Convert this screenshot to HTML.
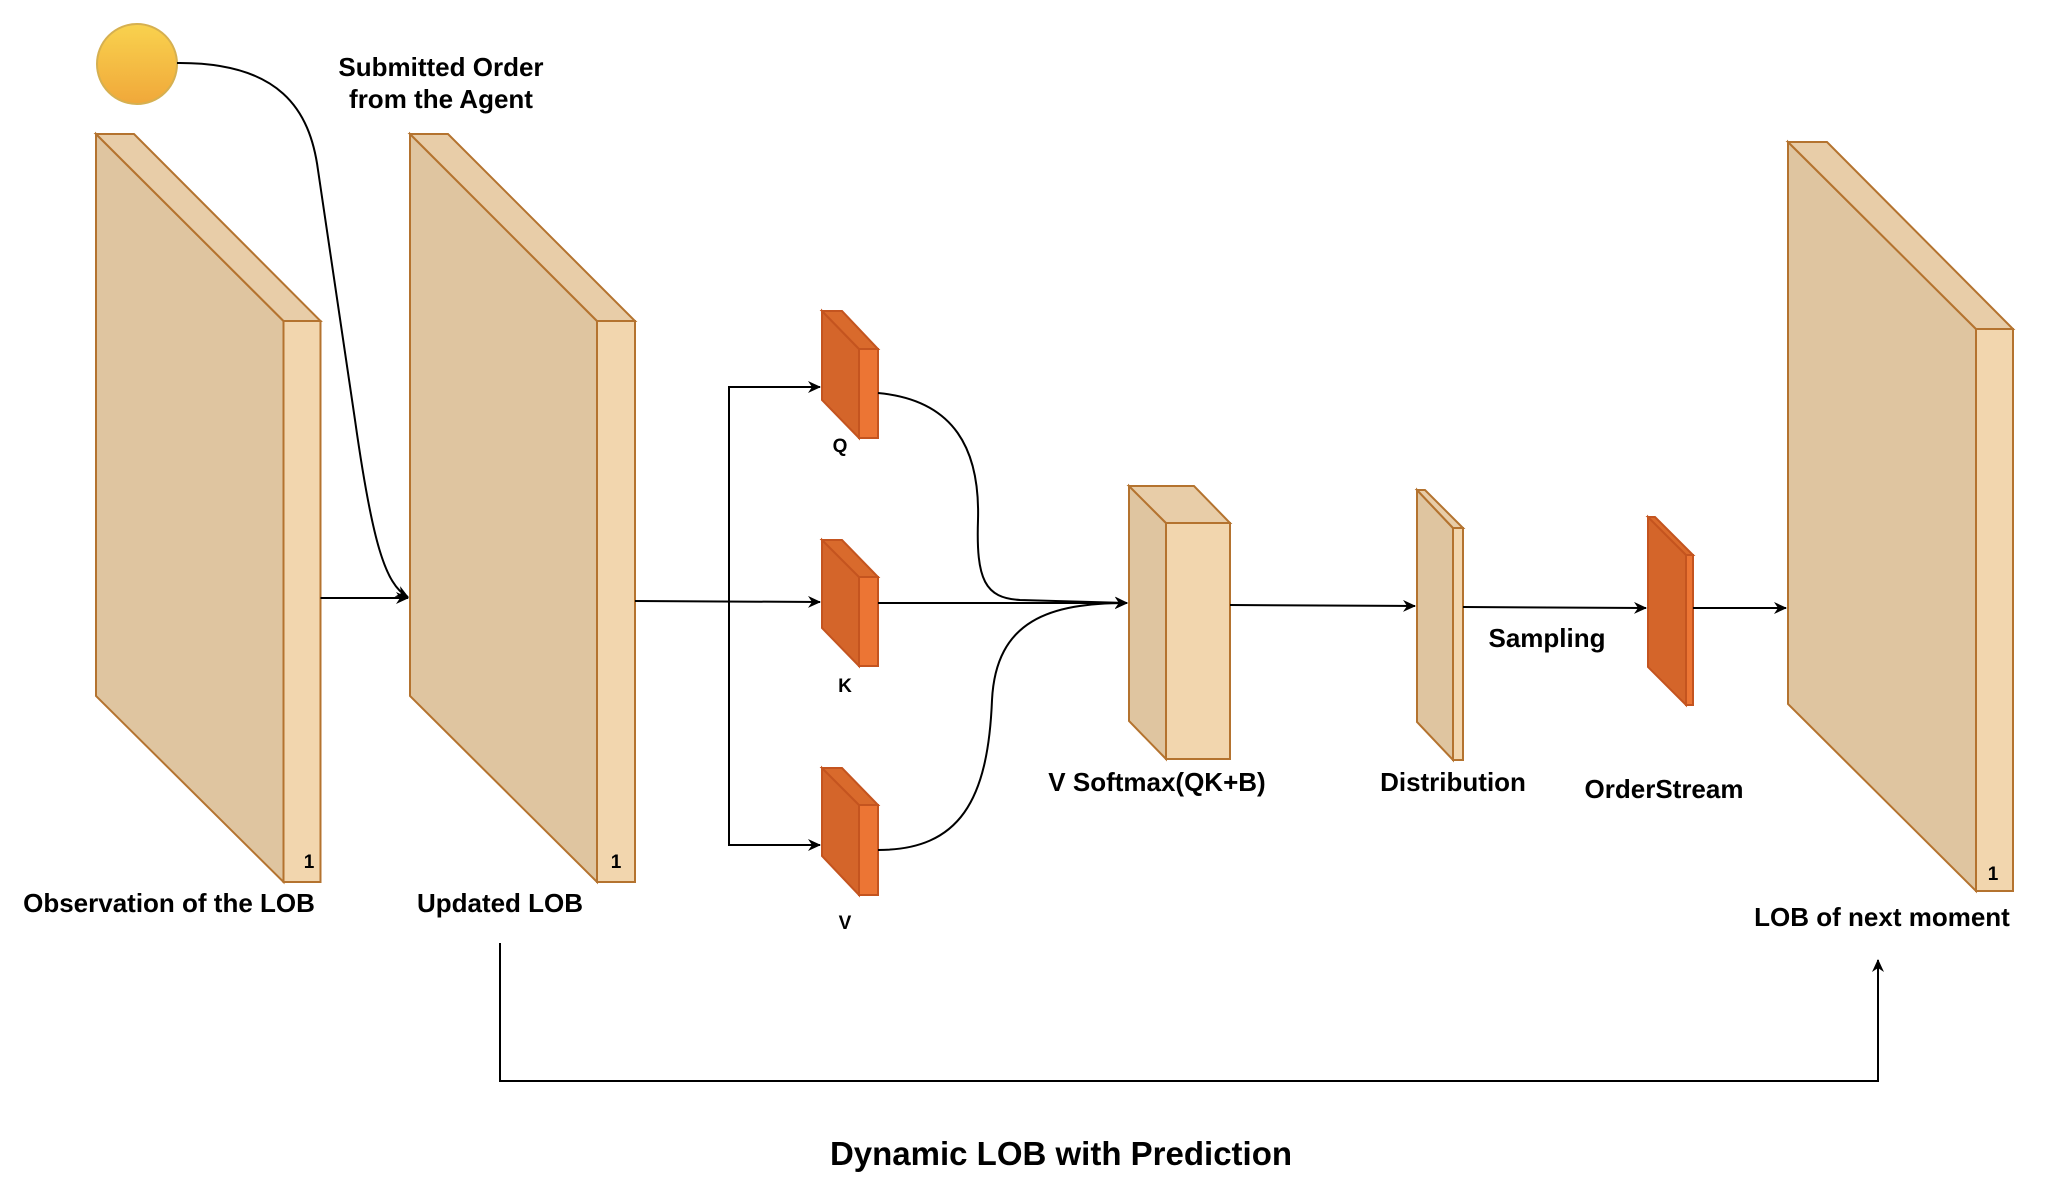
<!DOCTYPE html>
<html><head><meta charset="utf-8"><style>
html,body{margin:0;padding:0;background:#fff;width:2066px;height:1200px;overflow:hidden}
text{font-family:"Liberation Sans",Arial,sans-serif;font-weight:bold;fill:#000}
</style></head><body>
<svg width="2066" height="1200" viewBox="0 0 2066 1200" xmlns="http://www.w3.org/2000/svg">
<defs>
<linearGradient id="g" x1="0" y1="0" x2="0" y2="1"><stop offset="0" stop-color="#f9d24e"/><stop offset="1" stop-color="#f0a83a"/></linearGradient>
<marker id="a" markerWidth="14" markerHeight="12" refX="12" refY="6" orient="auto" markerUnits="userSpaceOnUse"><path d="M0,0 L13,6 L0,12 L4,6 Z" fill="#000"/></marker>
</defs>
<g stroke="#b4732f" stroke-width="2" stroke-linejoin="miter">
<polygon points="96,134 283.5,321 283.5,882 96,696" fill="#dfc5a0"/>
<polygon points="96,134 134,134 320.5,321 283.5,321" fill="#e8cda8"/>
<polygon points="283.5,321 320.5,321 320.5,882 283.5,882" fill="#f2d6ae"/>
<polygon points="410,134 597,321 597,882 410,696" fill="#dfc5a0"/>
<polygon points="410,134 448,134 635,321 597,321" fill="#e8cda8"/>
<polygon points="597,321 635,321 635,882 597,882" fill="#f2d6ae"/>
<polygon points="1129,486 1166,523 1166,759 1129,721" fill="#dfc5a0"/>
<polygon points="1129,486 1194,486 1230,523 1166,523" fill="#e8cda8"/>
<polygon points="1166,523 1230,523 1230,759 1166,759" fill="#f2d6ae"/>
<polygon points="1417,490 1453,528 1453,760 1417,722" fill="#dfc5a0"/>
<polygon points="1417,490 1425,490 1463,528 1453,528" fill="#e8cda8"/>
<polygon points="1453,528 1463,528 1463,760 1453,760" fill="#f2d6ae"/>
<polygon points="1788,142 1976,329 1976,891 1788,704" fill="#dfc5a0"/>
<polygon points="1788,142 1827,142 2013,329 1976,329" fill="#e8cda8"/>
<polygon points="1976,329 2013,329 2013,891 1976,891" fill="#f2d6ae"/>
</g>
<g stroke="#c4541f" stroke-width="2">
<polygon points="822,311 859,349 859,438 822,400" fill="#d4652a"/>
<polygon points="822,311 842,311 878,349 859,349" fill="#d96a2c"/>
<polygon points="859,349 878,349 878,438 859,438" fill="#ec7534"/>
<polygon points="822,540 859,577 859,666 822,628" fill="#d4652a"/>
<polygon points="822,540 842,540 878,577 859,577" fill="#d96a2c"/>
<polygon points="859,577 878,577 878,666 859,666" fill="#ec7534"/>
<polygon points="822,768 859,805 859,895 822,856" fill="#d4652a"/>
<polygon points="822,768 842,768 878,805 859,805" fill="#d96a2c"/>
<polygon points="859,805 878,805 878,895 859,895" fill="#ec7534"/>
<polygon points="1648,517 1686,555 1686,705 1648,667" fill="#d4652a"/>
<polygon points="1648,517 1655,517 1693,555 1686,555" fill="#d96a2c"/>
<polygon points="1686,555 1693,555 1693,705 1686,705" fill="#ec7534"/>
</g>
<ellipse cx="137" cy="64" rx="40" ry="40" fill="url(#g)" stroke="#d6b050" stroke-width="2"/>
<g fill="none" stroke="#000" stroke-width="2">
<path d="M177,63 C280,62 310,110 318,170 L355,420 C372,540 385,585 408,597" marker-end="url(#a)"/>
<path d="M320.5,598 L408,598" marker-end="url(#a)"/>
<path d="M635,601 L820,602" marker-end="url(#a)"/>
<path d="M729,601 L729,387 L820,387" marker-end="url(#a)"/>
<path d="M729,601 L729,845 L820,845" marker-end="url(#a)"/>
<path d="M878,393 C955,400 980,450 978,520 C976,580 985,598 1020,600 L1127,603" marker-end="url(#a)"/>
<path d="M878,603 L1127,603" marker-end="url(#a)"/>
<path d="M878,850 C960,850 988,800 992,700 C996,620 1050,603 1127,603" marker-end="url(#a)"/>
<path d="M1230,605 L1415,606" marker-end="url(#a)"/>
<path d="M1463,607 L1646,608" marker-end="url(#a)"/>
<path d="M1693,608 L1786,608" marker-end="url(#a)"/>
<path d="M500,943 L500,1081 L1878,1081 L1878,960" marker-end="url(#a)"/>
</g>
<g font-size="26" text-anchor="middle">
<text x="441" y="76">Submitted Order</text>
<text x="441" y="108">from the Agent</text>
<text x="169" y="912">Observation of the LOB</text>
<text x="500" y="912">Updated LOB</text>
<text x="1157" y="791">V Softmax(QK+B)</text>
<text x="1453" y="791">Distribution</text>
<text x="1547" y="647">Sampling</text>
<text x="1664" y="798">OrderStream</text>
<text x="1882" y="926">LOB of next moment</text>
</g>
<g font-size="19" text-anchor="middle">
<text x="840" y="452">Q</text>
<text x="845" y="692">K</text>
<text x="845" y="929">V</text>
<text x="309" y="868">1</text>
<text x="616" y="868">1</text>
<text x="1993" y="880">1</text>
</g>
<text x="1061" y="1165" font-size="33" text-anchor="middle">Dynamic LOB with Prediction</text>
</svg>
</body></html>
